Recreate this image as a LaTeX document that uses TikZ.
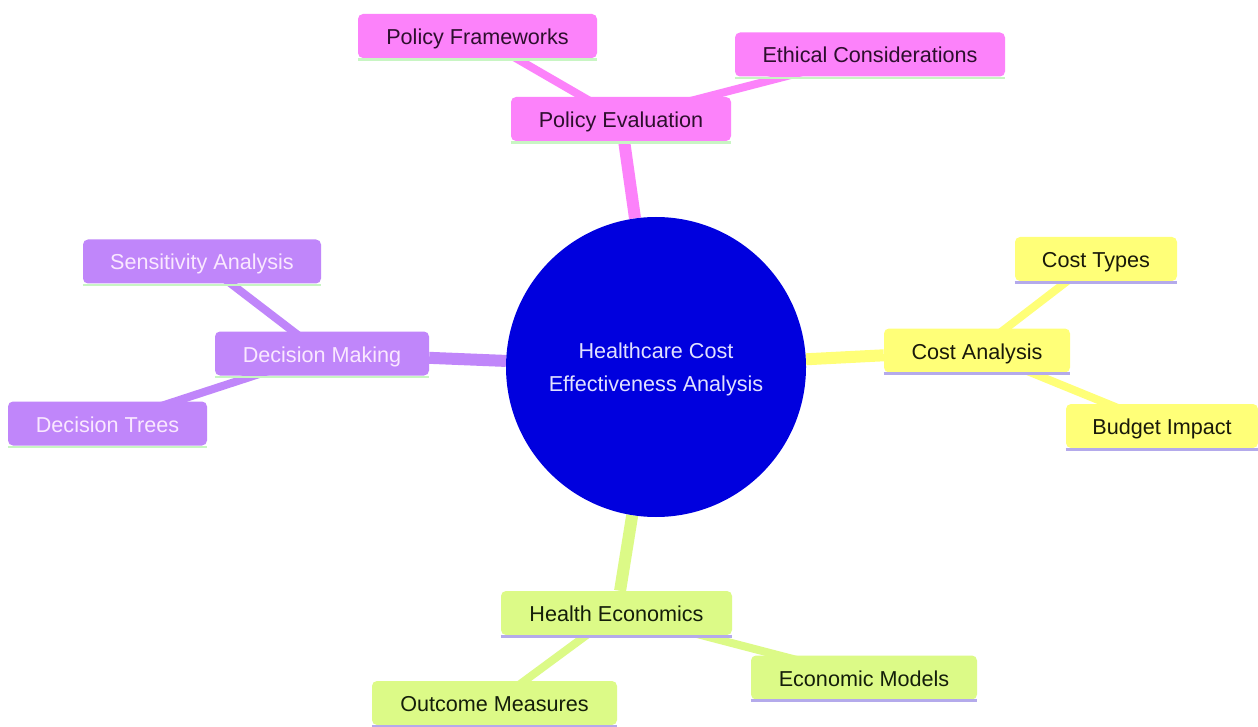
\documentclass[tikz,border=0pt]{standalone}
\usepackage{fontspec}
\setmainfont{Liberation Sans}
\usetikzlibrary{backgrounds}
\definecolor{rootblue}{RGB}{0,0,222}
\definecolor{roottext}{RGB}{225,225,255}
\definecolor{pinkc}{RGB}{252,130,250}
\definecolor{pinktext}{RGB}{45,15,45}
\definecolor{purplec}{RGB}{192,134,250}
\definecolor{purpletext}{RGB}{250,232,255}
\definecolor{yellowc}{RGB}{255,255,120}
\definecolor{yellowtext}{RGB}{25,25,10}
\definecolor{limec}{RGB}{220,250,135}
\definecolor{limetext}{RGB}{20,30,10}
\definecolor{ulgreen}{RGB}{200,245,195}
\definecolor{ullav}{RGB}{180,170,235}
\begin{document}
\begin{tikzpicture}[x=1pt,y=-1pt,
  every node/.style={font=\fontsize{21.6}{33}\selectfont},
  box/.style={rounded corners=5pt, minimum height=44pt, inner sep=0pt, text height=20pt, text depth=3pt},
  pinkbox/.style={box, fill=pinkc, text=pinktext},
  purplebox/.style={box, fill=purplec, text=purpletext},
  yellowbox/.style={box, fill=yellowc, text=yellowtext},
  limebox/.style={box, fill=limec, text=limetext},
  mainedge/.style={line width=12pt},
  subedge/.style={line width=8pt}]
\useasboundingbox (0,0) rectangle (1258,727);

\node[circle, fill=rootblue, minimum size=300pt] (root) at (656,367) {};
\node[text=roottext, align=center] (roottxt) at (656,369) {Healthcare Cost\\Effectiveness Analysis};

\node[pinkbox, minimum width=239pt] (pf) at (477.5,36) {Policy Frameworks};
\node[pinkbox, minimum width=270pt] (ec) at (870,54.5) {Ethical Considerations};
\node[pinkbox, minimum width=220pt] (pe) at (621,119) {Policy Evaluation};

\node[purplebox, minimum width=238pt] (sa) at (202,261.5) {Sensitivity Analysis};
\node[purplebox, minimum width=214pt] (dm) at (322,353.5) {Decision Making};
\node[purplebox, minimum width=199pt] (dt) at (107.5,423.5) {Decision Trees};

\node[yellowbox, minimum width=162pt] (ct) at (1096,259) {Cost Types};
\node[yellowbox, minimum width=186pt] (ca) at (977,350.5) {Cost Analysis};
\node[yellowbox, minimum width=192pt] (bi) at (1162,426) {Budget Impact};

\node[limebox, minimum width=231pt] (he) at (616.5,613) {Health Economics};
\node[limebox, minimum width=226pt] (em) at (864,677.5) {Economic Models};
\node[limebox, minimum width=245pt] (om) at (494.5,703) {Outcome Measures};

\begin{scope}[on background layer]
  \fill[white] (0,0) rectangle (1258,727);
  \draw[pinkc, mainedge] (root) -- (pe);
  \draw[purplec, mainedge] (root) -- (dm);
  \draw[yellowc, mainedge] (root) -- (ca);
  \draw[limec, mainedge] (root) -- (he);
  \draw[pinkc, subedge] (pe.center) -- (pf.center);
  \draw[pinkc, subedge] (pe.center) -- (ec.center);
  \draw[purplec, subedge] (dm.center) -- (sa.center);
  \draw[purplec, subedge] (dm.center) -- (dt.center);
  \draw[yellowc, subedge] (ca.center) -- (ct.center);
  \draw[yellowc, subedge] (ca.center) -- (bi.center);
  \draw[limec, subedge] (he.center) -- (em.center);
  \draw[limec, subedge] (he.center) -- (om.center);
\end{scope}

\foreach \n in {pf,ec,pe,sa,dm,dt}
  \draw[ulgreen, line width=2.5pt] ([yshift=-1.2pt]\n.south west) -- ([yshift=-1.2pt]\n.south east);
\foreach \n in {ct,ca,bi,he,em,om}
  \draw[ullav, line width=3pt] ([yshift=-1.2pt]\n.south west) -- ([yshift=-1.2pt]\n.south east);
\end{tikzpicture}
\end{document}
